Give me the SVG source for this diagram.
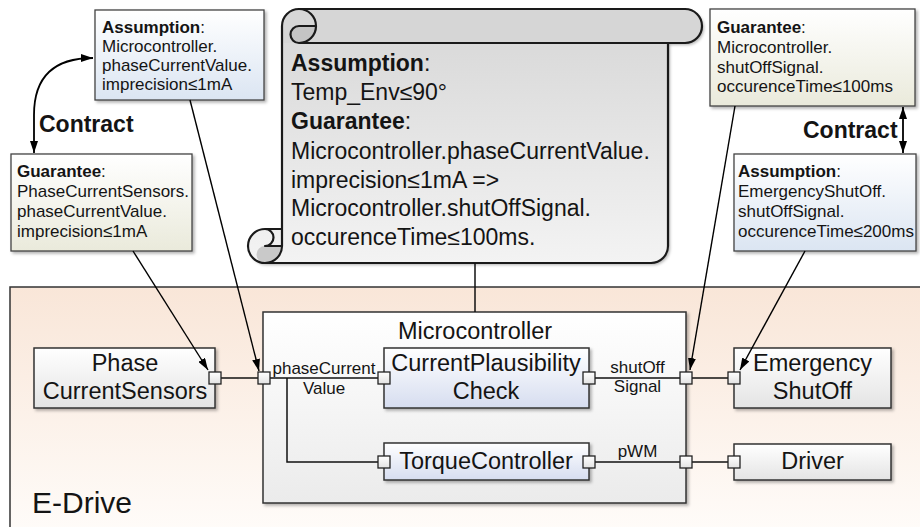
<svg xmlns="http://www.w3.org/2000/svg" width="920" height="527" viewBox="0 0 920 527">
  <defs>
    <linearGradient id="gFrame" x1="0" y1="0" x2="0" y2="1">
      <stop offset="0" stop-color="#f9e6d8"/>
      <stop offset="1" stop-color="#fffdfb"/>
    </linearGradient>
    <linearGradient id="gBox" x1="0" y1="0" x2="0" y2="1">
      <stop offset="0" stop-color="#ffffff"/>
      <stop offset="1" stop-color="#e4e4e4"/>
    </linearGradient>
    <linearGradient id="gBlue" x1="0" y1="0" x2="0" y2="1">
      <stop offset="0" stop-color="#ffffff"/>
      <stop offset="1" stop-color="#d6ddf0"/>
    </linearGradient>
    <linearGradient id="gMicro" x1="0" y1="0" x2="0" y2="1">
      <stop offset="0" stop-color="#ffffff"/>
      <stop offset="1" stop-color="#ebebeb"/>
    </linearGradient>
    <linearGradient id="gAssume" x1="0" y1="0" x2="0" y2="1">
      <stop offset="0" stop-color="#ffffff"/>
      <stop offset="1" stop-color="#dbe5f2"/>
    </linearGradient>
    <linearGradient id="gGuar" x1="0" y1="0" x2="0" y2="1">
      <stop offset="0" stop-color="#ffffff"/>
      <stop offset="1" stop-color="#eaeadb"/>
    </linearGradient>
    <linearGradient id="gScroll" x1="0" y1="9" x2="0" y2="263" gradientUnits="userSpaceOnUse">
      <stop offset="0" stop-color="#d6d6d6"/>
      <stop offset="0.134" stop-color="#d6d6d6"/>
      <stop offset="0.135" stop-color="#dadada"/>
      <stop offset="1" stop-color="#f3f3f3"/>
    </linearGradient>
    <linearGradient id="gPort" x1="0" y1="0" x2="0" y2="1">
      <stop offset="0" stop-color="#ffffff"/>
      <stop offset="1" stop-color="#e2e2e2"/>
    </linearGradient>
    <filter id="shadow" x="-10%" y="-10%" width="130%" height="130%">
      <feDropShadow dx="2" dy="2" stdDeviation="1.4" flood-color="#000" flood-opacity="0.3"/>
    </filter>
    <marker id="arrow" viewBox="0 0 12 8" refX="12" refY="4" markerWidth="12" markerHeight="8" markerUnits="userSpaceOnUse" orient="auto-start-reverse">
      <path d="M0,0 L12,4 L0,8 Z" fill="#000"/>
    </marker>
  </defs>
  <style>
    .t{font-family:"Liberation Sans",Arial,Helvetica,sans-serif;fill:#141414}
    .comp{font-size:23.5px;text-anchor:middle}
    .note{font-size:17px}
    .port-lbl{font-size:17px;text-anchor:middle}
    .scroll-txt{font-size:23px}
    .b{font-weight:bold}
    .box{stroke:#333;stroke-width:1.5}
    .cbox{stroke:#444;stroke-width:1.3}
    .port{fill:url(#gPort);stroke:#222;stroke-width:1.3}
    .wire{fill:none;stroke:#111;stroke-width:1.5}
    .arr{fill:none;stroke:#000;stroke-width:1.4;marker-end:url(#arrow)}
    .dbl{fill:none;stroke:#000;stroke-width:1.8;marker-start:url(#arrow);marker-end:url(#arrow)}
    .scroll-line{fill:none;stroke:#1a1a1a;stroke-width:2.2;stroke-linejoin:round}
  </style>

  <!-- E-Drive system frame -->
  <g id="e-drive">
    <rect x="10" y="287" width="930" height="260" fill="url(#gFrame)" stroke="#333" stroke-width="1.5"/>
    <text class="t" x="32" y="513" font-size="30">E-Drive</text>
  </g>

  <!-- Microcontroller container -->
  <g id="microcontroller">
    <rect x="263" y="312" width="423" height="191" fill="url(#gMicro)" class="box" filter="url(#shadow)"/>
    <text class="t comp" x="475" y="339">Microcontroller</text>
  </g>

  <g id="phase-current-sensors">
    <rect x="34" y="348" width="181" height="60" fill="url(#gBox)" class="box" filter="url(#shadow)"/>
    <text class="t comp" x="125" y="371">Phase</text>
    <text class="t comp" x="125" y="399">CurrentSensors</text>
  </g>

  <g id="current-plausibility-check">
    <rect x="384" y="348" width="205" height="60" fill="url(#gBlue)" class="box" filter="url(#shadow)"/>
    <text class="t comp" x="486" y="371">CurrentPlausibility</text>
    <text class="t comp" x="486" y="399">Check</text>
  </g>

  <g id="torque-controller">
    <rect x="384" y="443" width="205" height="37" fill="url(#gBlue)" class="box" filter="url(#shadow)"/>
    <text class="t comp" x="486" y="469">TorqueController</text>
  </g>

  <g id="emergency-shutoff">
    <rect x="734" y="348" width="157" height="60" fill="url(#gBox)" class="box" filter="url(#shadow)"/>
    <text class="t comp" x="812.5" y="371">Emergency</text>
    <text class="t comp" x="812.5" y="399">ShutOff</text>
  </g>

  <g id="driver">
    <rect x="734" y="444" width="157" height="36" fill="url(#gBox)" class="box" filter="url(#shadow)"/>
    <text class="t comp" x="812.5" y="469">Driver</text>
  </g>

  <!-- Contract specification scroll -->
  <g id="contract-scroll">
    <path d="M282 229 L282 26 A17 17 0 0 1 299 9 L685 9 A17 17 0 0 1 685 43 L668 43 L668 246 A17 17 0 0 1 651 263 L265 263 A17 17 0 0 1 265 229 Z" fill="url(#gScroll)" filter="url(#shadow)"/>
    <path d="M316 26 A17 17 0 0 1 299 43 A8.5 8.5 0 0 1 299 26 Z" fill="#c4c4c4"/>
    <path d="M282 246 A17 17 0 0 1 265 263 A8.5 8.5 0 0 1 265 246 Z" fill="#c9c9c9"/>
    <path class="scroll-line" d="M282 229 L282 26 A17 17 0 0 1 299 9 L685 9 A17 17 0 0 1 685 43 L668 43 L668 246 A17 17 0 0 1 651 263 L265 263 A17 17 0 0 1 265 229 Z"/>
    <path class="scroll-line" d="M299 9 A17 17 0 0 1 299 43 A8.5 8.5 0 0 1 299 26 L316 26"/>
    <path class="scroll-line" d="M668 43 L299 43"/>
    <path class="scroll-line" d="M265 229 A8.5 8.5 0 0 1 265 246 L282 246"/>
    <path class="scroll-line" d="M265 263 A17 17 0 0 0 282 246 L282 229"/>
    <text class="t scroll-txt" x="291" y="71"><tspan class="b">Assumption</tspan>:</text>
    <text class="t scroll-txt" x="291" y="100">Temp_Env≤90°</text>
    <text class="t scroll-txt" x="291" y="129"><tspan class="b">Guarantee</tspan>:</text>
    <text class="t scroll-txt" x="291" y="159">Microcontroller.phaseCurrentValue.</text>
    <text class="t scroll-txt" x="291" y="188">imprecision≤1mA =&gt;</text>
    <text class="t scroll-txt" x="291" y="216">Microcontroller.shutOffSignal.</text>
    <text class="t scroll-txt" x="291" y="245">occurenceTime≤100ms.</text>
  </g>

  <!-- Contract notes -->
  <g id="assumption-microcontroller">
    <rect x="95" y="10" width="169" height="90" fill="url(#gAssume)" class="cbox" filter="url(#shadow)"/>
    <text class="t note" x="102" y="33"><tspan class="b">Assumption</tspan>:</text>
    <text class="t note" x="102" y="52">Microcontroller.</text>
    <text class="t note" x="102" y="71">phaseCurrentValue.</text>
    <text class="t note" x="102" y="90">imprecision≤1mA</text>
  </g>

  <g id="guarantee-sensors">
    <rect x="11" y="154" width="181" height="97" fill="url(#gGuar)" class="cbox" filter="url(#shadow)"/>
    <text class="t note" x="17" y="177"><tspan class="b">Guarantee</tspan>:</text>
    <text class="t note" x="17" y="197">PhaseCurrentSensors.</text>
    <text class="t note" x="17" y="217">phaseCurrentValue.</text>
    <text class="t note" x="17" y="237">imprecision≤1mA</text>
  </g>

  <g id="guarantee-microcontroller">
    <rect x="710" y="9" width="205" height="97" fill="url(#gGuar)" class="cbox" filter="url(#shadow)"/>
    <text class="t note" x="717" y="33"><tspan class="b">Guarantee</tspan>:</text>
    <text class="t note" x="717" y="53">Microcontroller.</text>
    <text class="t note" x="717" y="73">shutOffSignal.</text>
    <text class="t note" x="717" y="92">occurenceTime≤100ms</text>
  </g>

  <g id="assumption-emergency">
    <rect x="734" y="154" width="182" height="97" fill="url(#gAssume)" class="cbox" filter="url(#shadow)"/>
    <text class="t note" x="738" y="177"><tspan class="b">Assumption</tspan>:</text>
    <text class="t note" x="738" y="197">EmergencyShutOff.</text>
    <text class="t note" x="738" y="217">shutOffSignal.</text>
    <text class="t note" x="738" y="237">occurenceTime≤200ms</text>
  </g>

  <g id="contract-labels">
    <text class="t b" x="39" y="132" font-size="23">Contract</text>
    <text class="t b" x="803" y="138" font-size="23">Contract</text>
  </g>

  <!-- Connectors -->
  <g id="connectors">
    <!-- flows between ports -->
    <path class="wire" d="M221 378 H258"/>
    <path class="wire" d="M270 378 H378"/>
    <path class="wire" d="M287 378 V462 H378"/>
    <path class="wire" d="M595 378 H680"/>
    <path class="wire" d="M692 378 H728"/>
    <path class="wire" d="M595 462 H680"/>
    <path class="wire" d="M692 462 H728"/>
    <!-- scroll attached to the microcontroller -->
    <path class="wire" d="M475 263 V312"/>
    <!-- contract references to ports -->
    <path class="arr" d="M190 100 L259 371"/>
    <path class="arr" d="M133 251 L208 370"/>
    <path class="arr" d="M735 106 L690 370"/>
    <path class="arr" d="M805 251 L740 370"/>
    <!-- contract pairings -->
    <path class="dbl" d="M34 153 L34 115 C34 76 55 58 93 58"/>
    <path class="dbl" d="M903 107 L903 153"/>
    <!-- port labels -->
    <text class="t port-lbl" x="324" y="374">phaseCurrent</text>
    <text class="t port-lbl" x="324" y="394">Value</text>
    <text class="t port-lbl" x="637.5" y="373">shutOff</text>
    <text class="t port-lbl" x="637.5" y="392">Signal</text>
    <text class="t port-lbl" x="637.5" y="457">pWM</text>
  </g>

  <!-- Ports -->
  <g id="ports">
    <rect class="port" x="209" y="372" width="12" height="12"/>
    <rect class="port" x="258" y="372" width="12" height="12"/>
    <rect class="port" x="378" y="372" width="12" height="12"/>
    <rect class="port" x="583" y="372" width="12" height="12"/>
    <rect class="port" x="680" y="372" width="12" height="12"/>
    <rect class="port" x="728" y="372" width="12" height="12"/>
    <rect class="port" x="378" y="456" width="12" height="12"/>
    <rect class="port" x="583" y="456" width="12" height="12"/>
    <rect class="port" x="680" y="456" width="12" height="12"/>
    <rect class="port" x="728" y="456" width="12" height="12"/>
  </g>
</svg>
